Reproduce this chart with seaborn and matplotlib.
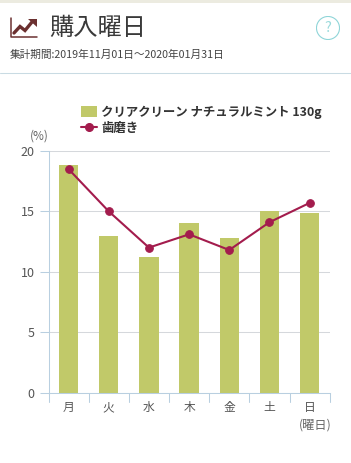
import matplotlib
matplotlib.use("Agg")
import matplotlib.pyplot as plt
from matplotlib.lines import Line2D
from matplotlib.patches import Circle, Patch, Polygon, Rectangle
import pandas as pd
import seaborn as sns

days = ["月", "火", "水", "木", "金", "土", "日"]
product_share = [18.8, 13.0, 11.2, 14.0, 12.8, 15.0, 14.9]
category_share = [18.5, 15.0, 12.0, 13.1, 11.8, 14.1, 15.7]
y_ticks = [0, 5, 10, 15, 20]

W, H = 351, 463
OLIVE = "#c1c969"
CRIMSON = "#a31c4d"
AXIS = "#b9cfe0"
TEXT = "#444444"

sns.set_theme(style="white")
plt.rcParams["font.family"] = ["Noto Sans CJK JP", "DejaVu Sans"]


def fx(px):
    return px / W


def fy(px):
    return 1 - px / H


df = pd.DataFrame({"day": days, "product": product_share, "category": category_share})

fig = plt.figure(figsize=(W / 100, H / 100), dpi=100, facecolor="white")
ax = fig.add_axes([fx(48.5), fy(392.5), 281.2 / W, (392.5 - 151) / H])

sns.barplot(data=df, x="day", y="product", color=OLIVE, saturation=1, width=0.48, ax=ax, zorder=2,
            linewidth=0)
sns.lineplot(data=df, x="day", y="category", color=CRIMSON, linewidth=1.5, marker="o",
             markersize=5.5, markeredgecolor=CRIMSON, sort=False, ax=ax, zorder=3)

ax.set_xlim(-0.5, 6.5)
ax.set_ylim(0, 20)
ax.set_xlabel("")
ax.set_ylabel("")
ax.set_yticks(y_ticks)
ax.grid(axis="y", color="#d5d8dc", linewidth=0.75, zorder=0)
ax.grid(axis="x", visible=False)
ax.set_axisbelow(True)
ax.tick_params(axis="y", length=6.8, width=0.75, color=AXIS, labelsize=9, labelcolor="#555555", pad=3.2, left=True)
ax.tick_params(axis="x", length=0, labelsize=8.5, labelcolor="#555555", pad=6)
for s in ["top", "right"]:
    ax.spines[s].set_visible(False)
for s in ["left", "bottom"]:
    ax.spines[s].set_color(AXIS)
    ax.spines[s].set_linewidth(0.75)

# x区切りの目盛
for i in range(8):
    ax.plot([i - 0.5, i - 0.5], [0, -0.8], color=AXIS, linewidth=0.75, clip_on=False, zorder=1)

fig.text(fx(49), fy(136.5), "(%)", fontsize=8.5, color="#666666", ha="right", va="center")
fig.text(fx(331.5), fy(425.5), "(曜日)", fontsize=8.8, color="#666666", ha="right", va="center")

handles = [Patch(facecolor=OLIVE, edgecolor="none"),
           Line2D([0], [0], color=CRIMSON, linewidth=1.5, marker="o", markersize=5.5)]
labels = ["クリアクリーン ナチュラルミント 130g", "歯磨き"]
leg = fig.legend(handles, labels, loc="upper left", bbox_to_anchor=(fx(77), fy(102)), frameon=False,
                 fontsize=8.95, handlelength=1.3, handleheight=1.0, handletextpad=0.36, labelspacing=0.22,
                 borderpad=0.3, borderaxespad=0)
for t in leg.get_texts():
    t.set_fontweight("bold")
    t.set_color("#333333")

# ヘッダー
fig.add_artist(Rectangle((0, fy(2.5)), 1, 2.5 / H, transform=fig.transFigure, facecolor="#ecebe0", edgecolor="none"))
fig.add_artist(Line2D([0, 1], [fy(72.5), fy(72.5)], color="#c9dbe3", linewidth=0.75))
fig.text(fx(49.5), fy(28), "購入曜日", fontsize=17.5, color="#3a3a3a", ha="left", va="center")
fig.text(fx(10), fy(54.5), "集計期間:2019年11月01日〜2020年01月31日", fontsize=7.7, color=TEXT, ha="left", va="center")

# アイコン
icon = "#6b3030"
fig.add_artist(Line2D([fx(10.5), fx(10.5), fx(37)], [fy(18), fy(36.5), fy(36.5)], color=icon, linewidth=1.1))
fig.add_artist(Line2D([fx(14), fx(20), fx(25), fx(32)], [fy(33), fy(26.5), fy(30.5), fy(22)],
                      color=icon, linewidth=2.4, solid_joinstyle="miter"))
fig.add_artist(Polygon([(fx(28), fy(19)), (fx(36.5), fy(19)), (fx(36.5), fy(27))], closed=True,
                       transform=fig.transFigure, facecolor=icon, edgecolor="none"))

# ヘルプ
help_ax = fig.add_axes([fx(316), fy(40), 24 / W, 24 / H])
help_ax.axis("off")
help_ax.set_xlim(0, 1)
help_ax.set_ylim(0, 1)
help_ax.add_patch(Circle((0.5, 0.5), 0.48, facecolor="white", edgecolor="#8fd5d8", linewidth=0.8))
help_ax.text(0.5, 0.5, "?", color="#9adadc", fontsize=10.5, ha="center", va="center")

fig.savefig("out.png", dpi=100)
